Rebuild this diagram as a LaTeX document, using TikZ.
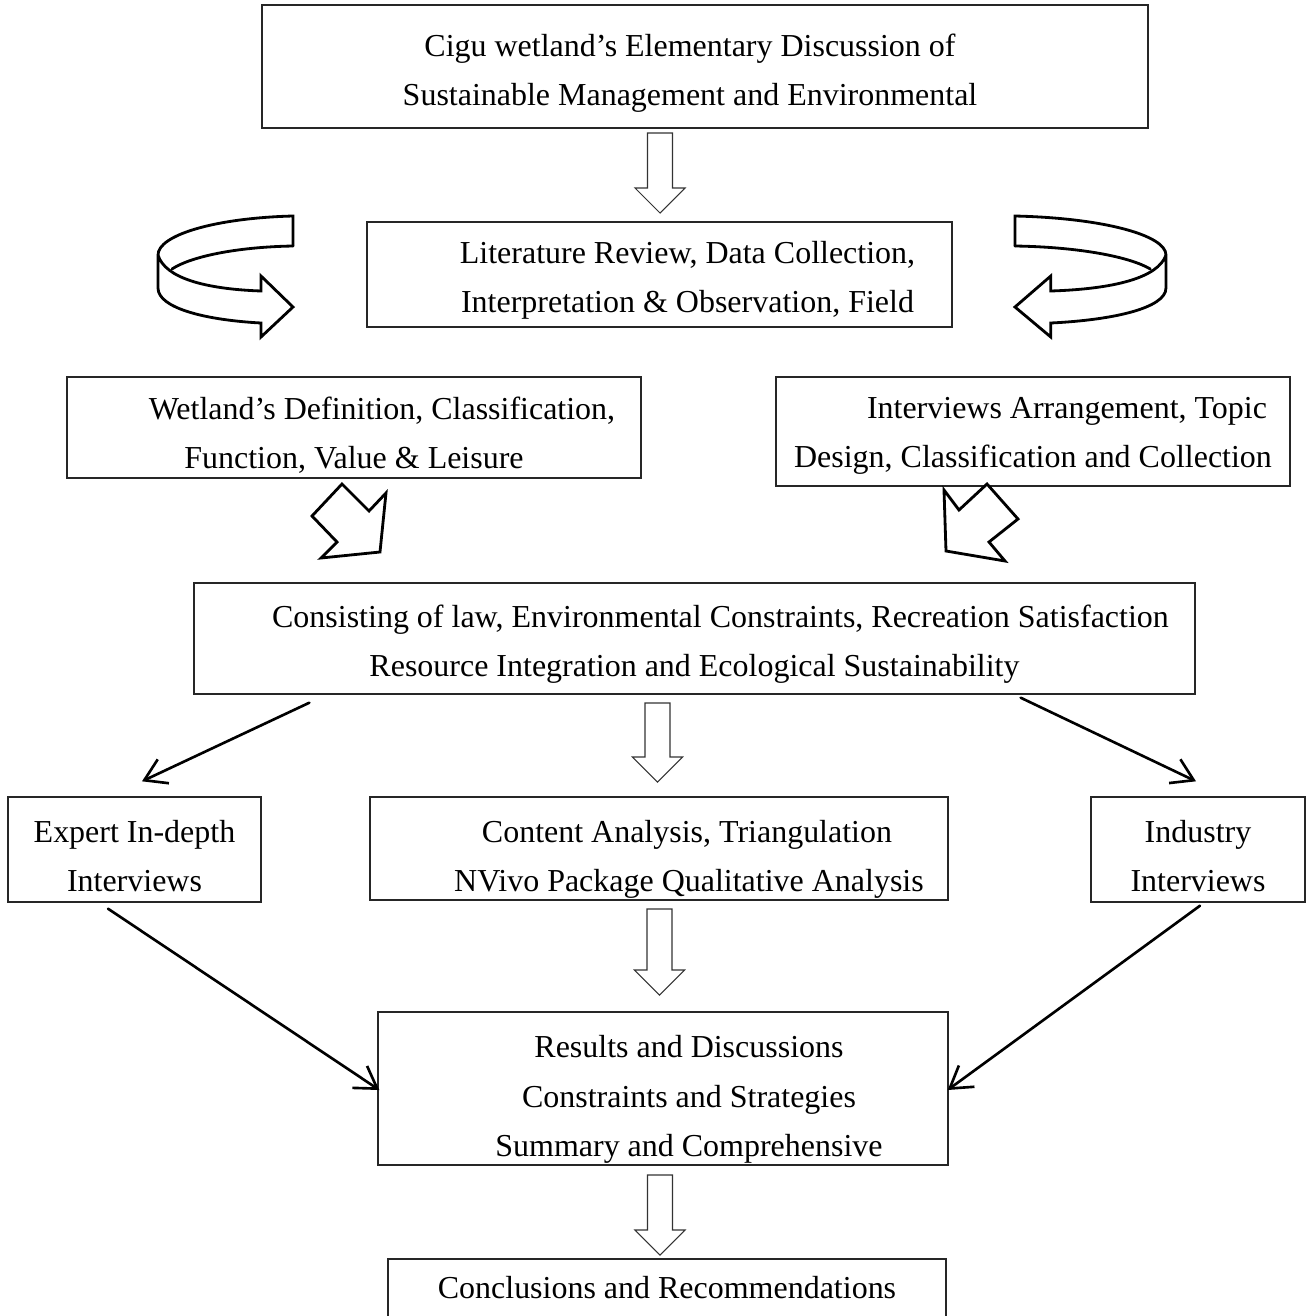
\documentclass[tikz,border=0pt]{standalone}
\usepackage{fontspec}
\setmainfont{Liberation Serif}
\usetikzlibrary{arrows.meta,calc}

\tikzset{
  box/.style={draw=black!85, line width=0.8pt, inner sep=0pt, align=center,
    font=\fontsize{18.2}{28}\selectfont},
  hollow/.style={draw=black!80, line width=0.6pt, fill=white, line join=miter},
  ribbon/.style={draw=black, line width=1.6pt, fill=white, line join=miter},
  link/.style={line width=1.5pt, -{Straight Barb[length=12pt,width=15pt]}}
}

% invisible strut that pushes the first line down
\newcommand\drop[1]{\rule{0pt}{#1}}

% hollow block arrow pointing down: centre x, top y, tip y
\newcommand\hollowdown[3]{%
  \draw[hollow] (#1-12.5,#2) -- (#1+12.5,#2) -- (#1+12.5,#3-25) -- (#1+25,#3-25)
    -- (#1,#3) -- (#1-25,#3-25) -- (#1-12.5,#3-25) -- cycle;}

% curled ribbon arrow (left one, tip at x=293)
\newcommand\turnarrow{%
  \draw[ribbon] (293,246) -- (293,216) .. controls (215,218) and (158,235) .. (158,255)
    -- (158,288) .. controls (158,308) and (205,320) .. (261,323) -- (261,337) -- (293,307)
    -- (261,276) -- (261,291) .. controls (205,289) and (165,278) .. (158,255);
  \draw[ribbon, fill=none] (293,246) .. controls (235,247) and (190,257) .. (172,269);}

\begin{document}
\begin{tikzpicture}[x=0.02cm,y=-0.02cm,line cap=round]
  \useasboundingbox (0,0) rectangle (1309,1316);

  % boxes
  \node[box, minimum width=17.72cm, minimum height=2.46cm] (top) at (705,66.5)
    {\drop{20pt}Cigu wetland's Elementary Discussion of\hspace*{0.6cm}\\Sustainable Management and Environmental\hspace*{0.6cm}};
  \node[box, minimum width=11.7cm, minimum height=2.1cm] (lit) at (659.5,274.5)
    {\drop{19pt}\hspace*{1.12cm}Literature Review, Data Collection,\\\hspace*{1.12cm}Interpretation \& Observation, Field};
  \node[box, minimum width=11.48cm, minimum height=2.02cm] (wet) at (354,427.5)
    {\drop{22pt}\hspace*{1.12cm}Wetland's Definition, Classification,\\Function, Value \& Leisure};
  \node[box, minimum width=10.28cm, minimum height=2.18cm] (intv) at (1033,431.5)
    {\drop{17pt}\hspace*{1.36cm}Interviews Arrangement, Topic\\Design, Classification and Collection};
  \node[box, minimum width=20.02cm, minimum height=2.22cm] (cons) at (694.5,638.5)
    {\drop{19pt}\hspace*{1.04cm}Consisting of law, Environmental Constraints, Recreation Satisfaction\\Resource Integration and Ecological Sustainability};
  \node[box, minimum width=5.06cm, minimum height=2.1cm] (expert) at (134.5,849.5)
    {\drop{20pt}Expert In-depth\\Interviews};
  \node[box, minimum width=11.56cm, minimum height=2.06cm] (content) at (659,848.5)
    {\drop{25pt}\hspace*{1.12cm}Content Analysis, Triangulation\\\hspace*{1.2cm}NVivo Package Qualitative Analysis};
  \node[box, minimum width=4.28cm, minimum height=2.1cm] (industry) at (1198,849.5)
    {\drop{20pt}Industry\\Interviews};
  \node[box, minimum width=11.4cm, minimum height=3.06cm] (results) at (663,1088.5)
    {\drop{25pt}\hspace*{1.04cm}Results and Discussions\\\hspace*{1.04cm}Constraints and Strategies\\\hspace*{1.04cm}Summary and Comprehensive};
  \node[box, minimum width=11.16cm, minimum height=1.16cm] (concl) at (667,1288)
    {Conclusions and Recommendations};

  % hollow arrows down
  \hollowdown{660}{133}{213}
  \hollowdown{657.5}{703}{782}
  \hollowdown{659.5}{909}{995}
  \hollowdown{660}{1175}{1255}

  % curled arrows beside the literature box
  \turnarrow
  \begin{scope}[shift={(1342.7,0)},xscale=-1.1185]
    \turnarrow
  \end{scope}

  % slanted block arrows
  \draw[ribbon] (342,484) -- (369,511) -- (386,493) -- (380,552) -- (321,558) -- (337,542) -- (312,516) -- cycle;
  \draw[ribbon] (987,484) -- (959,510) -- (944,490) -- (946,551) -- (1005,561) -- (989,542) -- (1018,519) -- cycle;

  % thin arrows
  \draw[link] ([xshift=2.32cm,yshift=-0.16cm]cons.south west) -- ([xshift=0.15cm,yshift=0.3cm]expert.north);
  \draw[link] ([xshift=-3.5cm,yshift=-0.06cm]cons.south east) -- ([xshift=-0.04cm,yshift=0.3cm]industry.north);
  \draw[link] ([xshift=-0.53cm,yshift=-0.12cm]expert.south) -- ([xshift=0.04cm,yshift=-0.03cm]results.west);
  \draw[link] ([xshift=0.04cm,yshift=-0.06cm]industry.south) -- ([xshift=-0.02cm,yshift=-0.03cm]results.east);
\end{tikzpicture}
\end{document}
